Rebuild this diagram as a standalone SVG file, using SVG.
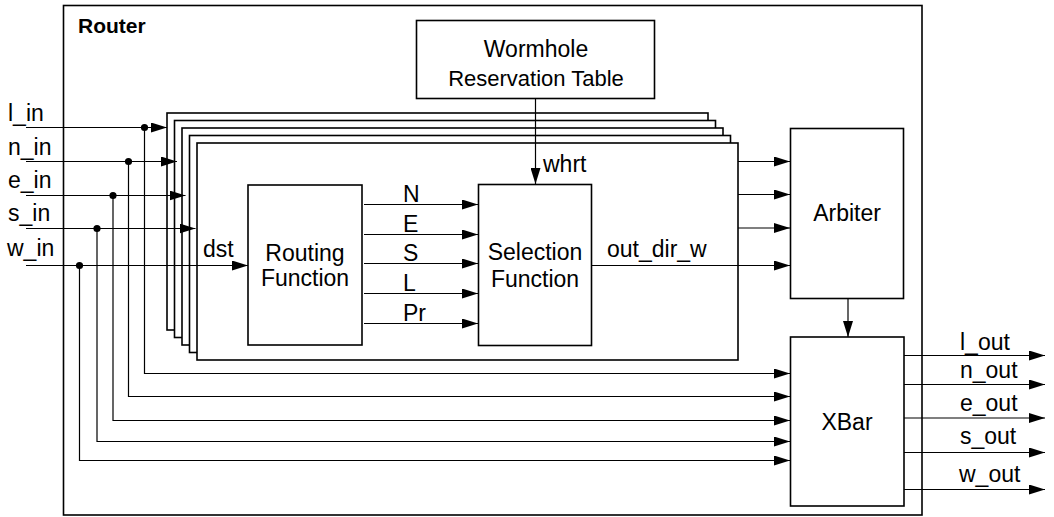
<svg xmlns="http://www.w3.org/2000/svg" width="1054" height="517" viewBox="0 0 1054 517">
<defs>
<marker id="arr" markerUnits="userSpaceOnUse" markerWidth="16" markerHeight="10" refX="16" refY="5" orient="auto">
<path d="M0,0 L16,5 L0,10 z" fill="#000"/>
</marker>
<style>
text{font-family:"Liberation Sans",Arial,sans-serif;font-size:23px;fill:#000}
.box{fill:#fff;stroke:#000;stroke-width:1.6}
.frame{fill:none;stroke:#000;stroke-width:1.6}
.c{fill:none;stroke:#000;stroke-width:1.2}
.a{marker-end:url(#arr)}
.mid{text-anchor:middle}
.dot{fill:#000}
</style>
</defs>
<rect width="1054" height="517" fill="#fff"/>
<g id="router">
<rect class="frame" x="63.5" y="5.5" width="858.5" height="509.5"/>
<text x="78" y="33" style="font-weight:bold;font-size:21px">Router</text>
</g>
<g id="wormhole-reservation-table">
<rect class="box" x="416.5" y="20.5" width="238" height="78"/>
<text class="mid" x="536" y="57">Wormhole</text>
<text class="mid" x="536" y="86" style="font-size:22px">Reservation Table</text>
</g>
<g id="input-port-stack">
<rect class="box" x="167" y="113" width="541" height="217"/>
<rect class="box" x="174.5" y="120.5" width="541" height="217"/>
<rect class="box" x="182" y="128" width="541" height="217"/>
<rect class="box" x="189.5" y="135.5" width="541" height="217"/>
<rect class="box" x="197" y="143" width="541" height="217"/>
</g>
<g id="routing-function">
<rect class="box" x="248" y="185" width="114" height="160"/>
<text class="mid" x="305" y="261">Routing</text>
<text class="mid" x="305" y="286">Function</text>
</g>
<g id="selection-function">
<rect class="box" x="478.5" y="184.5" width="113" height="161"/>
<text class="mid" x="535" y="260">Selection</text>
<text class="mid" x="535" y="287">Function</text>
</g>
<g id="arbiter">
<rect class="box" x="790.5" y="128.5" width="113" height="170"/>
<text class="mid" x="847" y="221">Arbiter</text>
</g>
<g id="xbar">
<rect class="box" x="790.5" y="337" width="113.5" height="169"/>
<text class="mid" x="847" y="430">XBar</text>
</g>
<g id="connectors">
<path class="c a" d="M26,127.5 H167"/>
<path class="c a" d="M26,161.5 H177"/>
<path class="c a" d="M26,195.5 H185.5"/>
<path class="c a" d="M26,228.5 H195.5"/>
<path class="c a" d="M26,265.5 H248"/>
<path class="c a" d="M144.5,127.5 V373.5 H790"/>
<path class="c a" d="M128.5,161.5 V396.5 H790"/>
<path class="c a" d="M113,195.5 V420.5 H790"/>
<path class="c a" d="M97,228.5 V441.5 H790"/>
<path class="c a" d="M79.5,265.5 V460.5 H790"/>
<circle class="dot" cx="144.5" cy="127.5" r="3.6"/>
<circle class="dot" cx="128.5" cy="161.5" r="3.6"/>
<circle class="dot" cx="113" cy="195.5" r="3.6"/>
<circle class="dot" cx="97" cy="228.5" r="3.6"/>
<circle class="dot" cx="79.5" cy="265.5" r="3.6"/>
<path class="c a" d="M364,204.5 H478"/>
<path class="c a" d="M364,234.5 H478"/>
<path class="c a" d="M364,263.5 H478"/>
<path class="c a" d="M364,293.5 H478"/>
<path class="c a" d="M364,323.5 H478"/>
<path class="c a" d="M535.5,98 V184"/>
<path class="c a" d="M738,161.5 H790"/>
<path class="c a" d="M738,194.5 H790"/>
<path class="c a" d="M738,228 H790"/>
<path class="c a" d="M592,265.5 H790"/>
<path class="c a" d="M848,298 V337"/>
<path class="c a" d="M904,355.5 H1045"/>
<path class="c a" d="M904,384.5 H1045"/>
<path class="c a" d="M904,418 H1045"/>
<path class="c a" d="M904,452.5 H1045"/>
<path class="c a" d="M904,489.5 H1045"/>
</g>
<g id="labels">
<text x="8" y="121">l_in</text>
<text x="8" y="155">n_in</text>
<text x="8" y="188">e_in</text>
<text x="8" y="221">s_in</text>
<text x="7" y="256">w_in</text>
<text x="203" y="257">dst</text>
<text x="403" y="202">N</text>
<text x="403" y="232">E</text>
<text x="403" y="261">S</text>
<text x="403" y="291">L</text>
<text x="403" y="321">Pr</text>
<text x="543" y="172">whrt</text>
<text x="607" y="257">out_dir_w</text>
<text x="960" y="350">l_out</text>
<text x="960" y="378">n_out</text>
<text x="960" y="411">e_out</text>
<text x="960" y="444">s_out</text>
<text x="959" y="482">w_out</text>
</g>
</svg>
